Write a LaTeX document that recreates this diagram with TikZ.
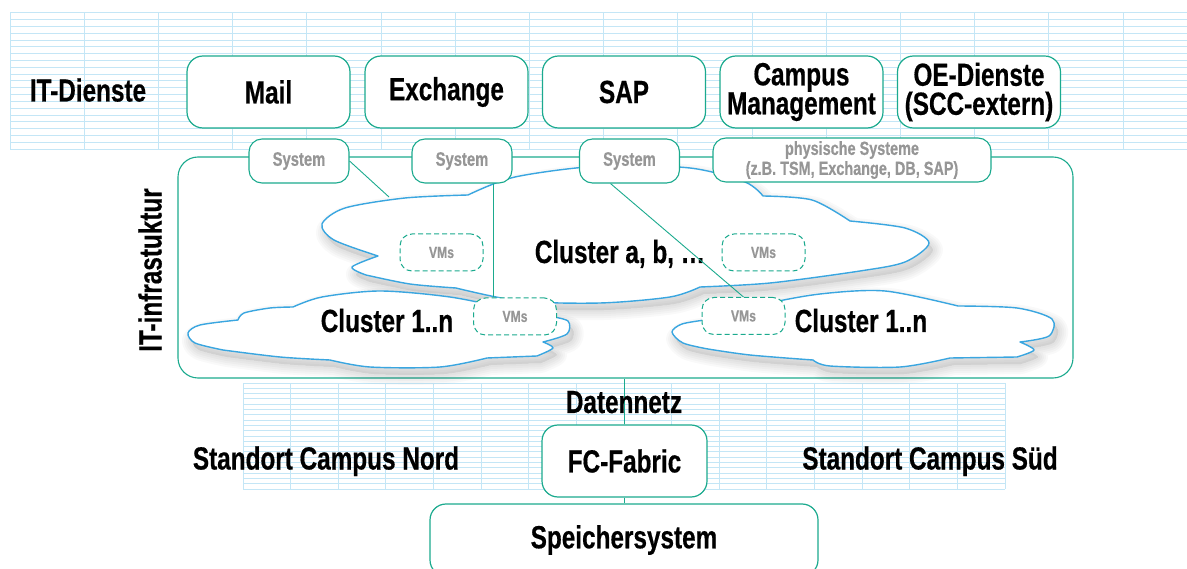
\documentclass[tikz,border=0pt]{standalone}
\usepackage{fontspec}
\setmainfont{Liberation Sans}[FakeStretch=0.76, BoldFeatures={FakeBold=0.5}]
\definecolor{teal1}{RGB}{27,170,142}
\definecolor{cloudblue}{RGB}{58,166,224}
\definecolor{gridblue}{RGB}{196,230,246}
\definecolor{txtgray}{RGB}{150,150,150}
\tikzset{
  gridline/.style={draw=gridblue, line width=0.9pt},
  box/.style={draw=teal1, line width=1.2pt, rounded corners=16pt, fill=white,
    minimum width=163pt, minimum height=72pt, inner sep=0pt, align=center,
    font=\bfseries\fontsize{32}{29}\selectfont},
  sys/.style={draw=teal1, line width=1.1pt, rounded corners=13pt, fill=white,
    minimum width=100pt, minimum height=44pt, inner sep=0pt, align=center,
    text=txtgray, font=\bfseries\fontsize{19.5}{20}\selectfont},
  vm/.style={draw=teal1, dash pattern=on 5pt off 3pt, line width=1pt,
    rounded corners=12pt, fill=white, minimum width=83pt, minimum height=37pt,
    inner sep=0pt, text=txtgray, font=\bfseries\fontsize{16}{16}\selectfont},
  lbl/.style={inner sep=0pt, font=\bfseries\fontsize{32}{32}\selectfont,
    text height=23pt, text depth=7pt},
  conn/.style={draw=teal1, line width=0.9pt},
  cloudline/.style={draw=cloudblue, line width=1.4pt, fill=white, line join=round},
}
\def\cloudA{(468,195)
 -- plot[smooth] coordinates {(468,195) (515,177) (600,166) (690,168) (745,182) (763,196)}
 -- plot[smooth] coordinates {(763,196) (812,200) (850,221)}
 -- plot[smooth] coordinates {(850,221) (905,228) (929,243) (905,262) (860,271) (770,283) (700,287)}
 -- plot[smooth] coordinates {(700,287) (670,297) (600,303) (520,301) (456,288)}
 -- plot[smooth] coordinates {(456,288) (410,284) (366,275)}
 -- plot[smooth] coordinates {(366,275) (352,267) (378,256)}
 -- plot[smooth] coordinates {(378,256) (334,240) (322,224) (345,208) (405,198) (468,195)}
 -- cycle}
\def\cloudB{(238,320)
 -- plot[smooth] coordinates {(238,320) (244,313) (270,308) (293,307)}
 -- plot[smooth] coordinates {(293,307) (322,297) (380,291) (450,297) (510,309) (548,316)}
 -- plot[smooth] coordinates {(548,316) (568,321) (567,334) (543,342)}
 -- plot[smooth] coordinates {(543,342) (553,348) (537,356)}
 -- plot[smooth] coordinates {(537,356) (487,358)}
 -- plot[smooth] coordinates {(487,358) (440,367) (370,367) (330,360)}
 -- plot[smooth] coordinates {(330,360) (280,357) (223,350)}
 -- plot[smooth] coordinates {(223,350) (195,343) (188,333) (200,325) (238,320)}
 -- cycle}
\def\cloudC{(705,320)
 -- plot[smooth] coordinates {(705,320) (760,305) (820,294) (885,291) (958,306)}
 -- plot[smooth] coordinates {(958,306) (1017,308) (1052,319) (1049,336) (1020,342)}
 -- plot[smooth] coordinates {(1020,342) (1034,350) (1017,357)}
 -- plot[smooth] coordinates {(1017,357) (950,358)}
 -- plot[smooth] coordinates {(950,358) (900,367) (830,366) (813,360)}
 -- plot[smooth] coordinates {(813,360) (750,355) (708,349)}
 -- plot[smooth] coordinates {(708,349) (683,343) (672,332) (682,324) (705,320)}
 -- cycle}
\begin{document}
\begin{tikzpicture}[x=1pt,y=-1pt]
\useasboundingbox (0,0) rectangle (1187,569);
\clip (0,0) rectangle (1187,569);
% top grid
\foreach \i in {0,...,20} \draw[gridline] (10,{12.7+\i*6.82}) -- (1187,{12.7+\i*6.82});
\foreach \i in {0,...,16} \draw[gridline] ({10+\i*74.2},12.7) -- ({10+\i*74.2},149.1);
% bottom grid
\foreach \i in {0,...,20} \draw[gridline] (243,{383+\i*5.3}) -- (1005,{383+\i*5.3});
\foreach \i in {0,...,16} \draw[gridline] ({243+\i*47.625},383) -- ({243+\i*47.625},489);
% infrastructure frame
\node[draw=teal1, line width=1.1pt, rounded corners=20pt, minimum width=895pt,
  minimum height=221pt, inner sep=0pt] (infra) at (625.5,267.5) {};
% clouds with soft shadows
\foreach \c in {\cloudA,\cloudB,\cloudC}{
  \foreach \w in {20,16,12,8,4}
    \filldraw[black, draw opacity=0.022, fill opacity=0.015, line width=\w pt, line join=round, shift={(4,7)}] \c;
}
\path[cloudline] \cloudA;
\path[cloudline] \cloudB;
\path[cloudline] \cloudC;
% nodes
\node[vm] (vmA) at (441.5,252.5) {VMs};
\node[vm] (vmB) at (763.5,252.5) {VMs};
\node[vm] (vmC) at (515,316.5) {VMs};
\node[vm] (vmD) at (743.5,316) {VMs};
\node[lbl] (clA) at (620,255) {Cluster a, b, …};
\node[lbl] (clB) at (387,324) {Cluster 1..n};
\node[lbl] (clC) at (861,324) {Cluster 1..n};
\node[sys] (s1) at (299,161) {System};
\node[sys] (s2) at (462,161) {System};
\node[sys] (s3) at (629.5,161) {System};
\node[sys, minimum width=278pt, font=\bfseries\fontsize{19}{20}\selectfont] (phys) at (852,160)
  {physische Systeme\\(z.B. TSM, Exchange, DB, SAP)};
% connectors
\coordinate (cA) at (389,197);
\draw[conn] (s1.east) -- (cA);
\draw[conn] ([xshift=31pt]s2.south) -- ([xshift=31pt]s2.south |- vmC.north);
\draw[conn] ([xshift=-19pt]s3.south) -- (vmD.north);
% services
\node[lbl] (itd) at (88,93.5) {IT-Dienste};
\node[box] (mail) at (268.5,92) {Mail};
\node[box] (exch) at (446.5,92) {Exchange};
\node[box] (sap) at (624,92) {SAP};
\node[box] (cm) at (801.5,92) {Campus\\Management};
\node[box] (oe) at (979,92) {OE-Dienste\\(SCC-extern)};
\node[lbl, rotate=90] (infl) at (153.5,270) {IT-infrastuktur};
% lower part
\node[box, minimum width=165pt] (fc) at (624.5,461) {FC-Fabric};
\node[box, minimum width=388pt] (sp) at (624,540) {Speichersystem};
\draw[conn] (fc.north |- infra.south) -- (fc.north);
\draw[conn] (fc.south) -- (fc.south |- sp.north);
\node[lbl] (dn) at (624,405) {Datennetz};
\node[lbl] (nord) at (326,461.5) {Standort Campus Nord};
\node[lbl] (sued) at (930,461.5) {Standort Campus Süd};
\end{tikzpicture}
\end{document}
